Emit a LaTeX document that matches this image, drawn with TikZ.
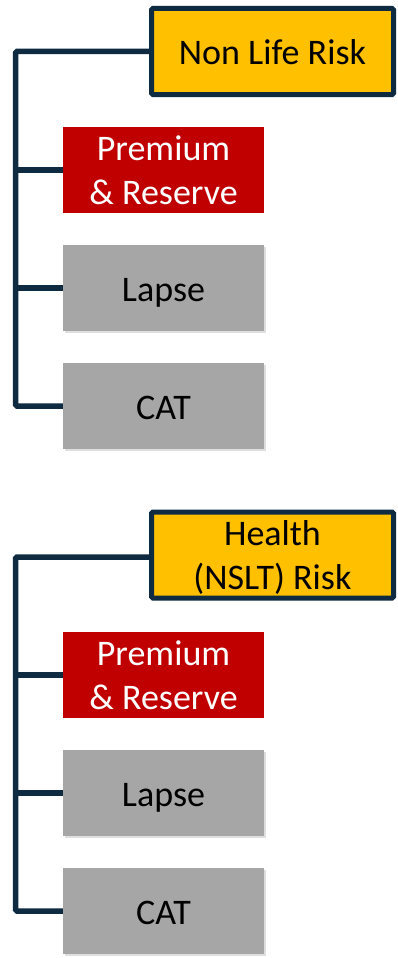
\documentclass[tikz,border=0pt]{standalone}
\usepackage{fontspec}
\setmainfont{Carlito}
\usetikzlibrary{shadows}
\definecolor{navy}{RGB}{14,43,66}
\definecolor{gold}{RGB}{255,192,0}
\definecolor{darkred}{RGB}{192,0,0}
\definecolor{midgray}{RGB}{166,166,166}
\begin{document}
\begin{tikzpicture}[x=1pt,y=-1pt,
  txt/.style={font=\fontsize{36}{44}\selectfont, align=center, inner sep=0pt},
  oneline/.style={text height=27pt, text depth=0pt},
  twoline/.style={text depth=0pt},
  headbox/.style={txt, fill=gold, draw=navy, line width=5pt, rounded corners=1.5pt,
    minimum width=242pt, minimum height=86pt,
    drop shadow={shadow xshift=2pt, shadow yshift=-2pt, opacity=0.25}},
  redbox/.style={txt, fill=darkred, text=white, minimum width=201pt, minimum height=86pt},
  graybox/.style={txt, fill=midgray, text=black, minimum width=201pt, minimum height=86pt,
    drop shadow={shadow xshift=2pt, shadow yshift=-2pt, opacity=0.25}},
  conn/.style={draw=navy, line width=5.5pt, rounded corners=1.5pt}]
\useasboundingbox (0,0) rectangle (398,958);

% group 1
\node[headbox,oneline] (h1) at (272.5,51.5) {Non Life Risk};
\node[redbox,twoline]  (p1) at (163.5,170) {Premium\\\& Reserve};
\node[graybox,oneline] (l1) at (163.5,288) {Lapse};
\node[graybox,oneline] (c1) at (163.5,406) {CAT};
\coordinate (s1) at (15.5,51.5);
\draw[conn] (h1.west) -- (s1) |- (c1.west);
\draw[conn] (s1 |- p1.west) -- (p1.west);
\draw[conn] (s1 |- l1.west) -- (l1.west);

% group 2
\node[headbox,twoline] (h2) at (272.5,555) {Health\\(NSLT) Risk};
\node[redbox,twoline]  (p2) at (163.5,675) {Premium\\\& Reserve};
\node[graybox,oneline] (l2) at (163.5,793) {Lapse};
\node[graybox,oneline] (c2) at (163.5,911) {CAT};
\coordinate (s2) at (15.5,557);
\draw[conn] (h2.west |- s2) -- (s2) |- (c2.west);
\draw[conn] (s2 |- p2.west) -- (p2.west);
\draw[conn] (s2 |- l2.west) -- (l2.west);
\end{tikzpicture}
\end{document}
